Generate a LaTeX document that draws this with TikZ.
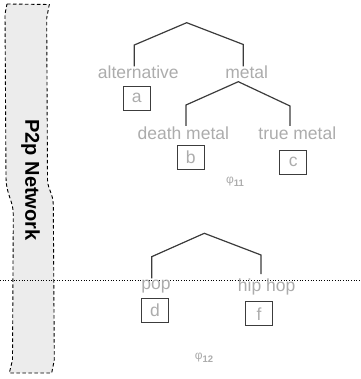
\documentclass[tikz,border=0pt]{standalone}
\usepackage{fontspec}
\setmainfont{Liberation Sans}
\definecolor{lbl}{RGB}{172,172,172}
\definecolor{ln}{RGB}{60,60,60}
\definecolor{fillg}{RGB}{236,236,236}
\newcommand{\phisub}[1]{φ\raisebox{-2.6pt}{\fontsize{9.5}{10}\selectfont\bfseries #1}}
\begin{document}
\begin{tikzpicture}[x=1pt,y=-1pt,
  lab/.style={text=lbl,font=\fontsize{17.5}{18}\selectfont,inner sep=0pt,anchor=center},
  box/.style={draw=ln,line width=0.9pt,text=lbl,minimum width=27pt,minimum height=24pt,inner sep=0pt,font=\fontsize{17.5}{18}\selectfont},
  tree/.style={draw=ln,line width=1.2pt},
  phi/.style={text=lbl,inner sep=0pt,font=\fontsize{12}{13}\selectfont}]
\useasboundingbox (0,0) rectangle (360,379);
% P2p network band
\path[fill=fillg,draw=black,dash pattern=on 3.5pt off 2.5pt,line width=0.9pt]
  (7,4) -- (49.3,4.5) -- (46.7,18) -- (47.5,180)
  .. controls (48,190) and (53,193) .. (53.3,205)
  -- (54.3,360) -- (51.7,373) -- (9.3,373) -- (12.5,360) -- (13.3,215)
  .. controls (13.3,200) and (6.5,196) .. (6,178) -- (5,14) -- cycle;
\node[rotate=-90,font=\fontsize{20}{21}\selectfont\bfseries,inner sep=0pt] (p2p) at (30.5,180) {P2p Network};
% dotted line
\coordinate (dl) at (0,280);
\coordinate (dr) at (360,280);
\draw[dotted,line width=0.7pt] (dl) -- (dr);
% tree 11
\node[lab] (alt) at (138.3,72) {alternative};
\node[lab] (met) at (246.7,72) {metal};
\node[lab] (dm) at (183.3,133) {death metal};
\node[lab] (tm) at (297.3,133) {true metal};
\node[box] (a) at (136.7,98) {a};
\node[box] (b) at (190.7,157.5) {b};
\node[box] (c) at (293.3,162) {c};
\node[phi] (phi11) at (235,182) {\phisub{11}};
\coordinate (r1) at (186.7,22.7);
\coordinate (r1l) at (134.3,45);
\coordinate (r1r) at (243.3,44.5);
\coordinate (altt) at (134.3,66.5);
\coordinate (mett) at (243.3,66.5);
\draw[tree] (altt) -- (r1l) -- (r1) -- (r1r) -- (mett);
\coordinate (r2) at (238.3,81.7);
\coordinate (r2l) at (186,105);
\coordinate (r2r) at (290,106);
\coordinate (dmt) at (186,126);
\coordinate (tmt) at (290,126);
\draw[tree] (dmt) -- (r2l) -- (r2) -- (r2r) -- (tmt);
% tree 12
\node[lab] (pop) at (156,286.7) {pop};
\node[lab] (hh) at (266.7,286.7) {hip hop};
\node[box] (d) at (155,310) {d};
\node[box] (f) at (259,313.7) {f};
\node[phi] (phi12) at (204,358) {\phisub{12}};
\coordinate (r3) at (204.3,233.3);
\coordinate (r3l) at (151.7,256.7);
\coordinate (r3r) at (261,255);
\coordinate (popt) at (151.7,278.3);
\coordinate (hht) at (261,274);
\draw[tree] (popt) -- (r3l) -- (r3) -- (r3r) -- (hht);
\end{tikzpicture}
\end{document}
